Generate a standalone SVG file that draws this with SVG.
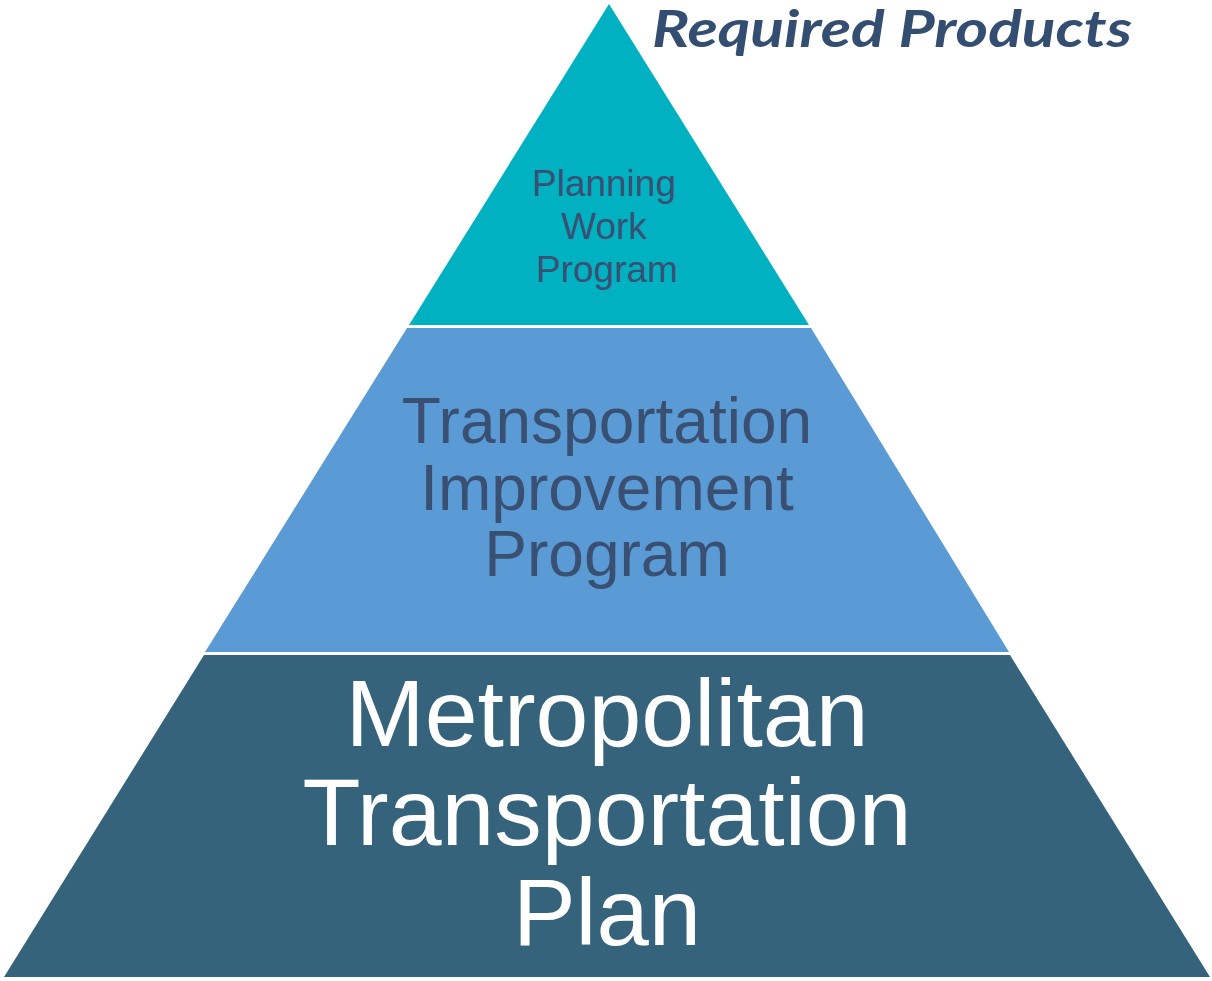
<svg xmlns="http://www.w3.org/2000/svg" width="1212" height="981" viewBox="0 0 1212 981">
<style>
.t{font-family:"Liberation Sans",Arial,sans-serif;text-anchor:middle}
.dk{fill:#3A5072}
.wh{fill:#FFFFFF}
</style>
<rect width="1212" height="981" fill="#FFFFFF"/>
<g id="layer-top">
<polygon points="609,4 809,325 409,325" fill="#00B1C1"/>
<text class="t dk" font-size="37" x="604" y="196">Planning</text>
<text class="t dk" font-size="37" x="604" y="239">Work</text>
<text class="t dk" font-size="37" x="607" y="282">Program</text>
</g>
<g id="layer-middle">
<polygon points="407,328 811,328 1009,652 205,652" fill="#5B9BD5"/>
<text class="t dk" font-size="64" x="607" y="443">Transportation</text>
<text class="t dk" font-size="64" x="607" y="510">Improvement</text>
<text class="t dk" font-size="64" x="607" y="576">Program</text>
</g>
<g id="layer-bottom">
<polygon points="204,655 1010,655 1210,977 4,977" fill="#35637C"/>
<text class="t wh" font-size="94" x="607" y="746" textLength="523" lengthAdjust="spacingAndGlyphs">Metropolitan</text>
<text class="t wh" font-size="94" x="607" y="845" textLength="609" lengthAdjust="spacingAndGlyphs">Transportation</text>
<text class="t wh" font-size="94" x="607" y="945">Plan</text>
</g>
<g id="title">
<text x="652" y="47" font-family="Lato,'Liberation Sans',sans-serif" font-weight="bold" font-style="italic" font-size="52" fill="#344E72" textLength="480" lengthAdjust="spacingAndGlyphs">Required Products</text>
</g>
<g id="connectors"></g>
</svg>
